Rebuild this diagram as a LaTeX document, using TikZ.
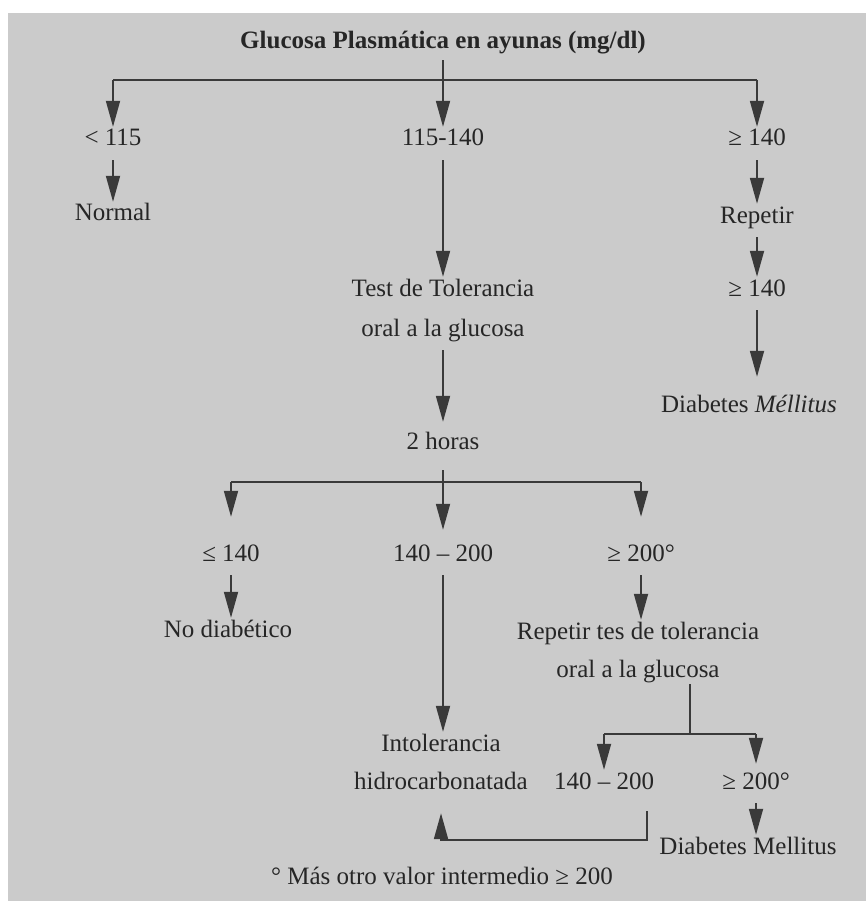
\documentclass[tikz,border=0pt]{standalone}
\usepackage{fontspec}
\setmainfont{Liberation Serif}
\usetikzlibrary{arrows.meta,calc}

\definecolor{fondo}{RGB}{203,203,203}
\definecolor{linea}{RGB}{58,58,58}
\definecolor{letra}{RGB}{38,38,38}

\begin{document}
\begin{tikzpicture}
		[x=1pt,y=-1pt,
		every node/.style={inner sep=2pt,text=letra,text height=17pt,
			text depth=5pt,font=\fontsize{25}{30}\selectfont},
		trazo/.style={draw=linea,line width=1.8pt},
		flecha/.style={trazo,-{Triangle[length=26pt,width=14pt]}}]
		\useasboundingbox (0,0) rectangle (866,901);
		\fill[white] (0,0) rectangle (866,901);
		\fill[fondo] (8,13) rectangle (866,901);
		%% primer nivel
		\node (titulo) at (443,43) {\bfseries Glucosa Plasmática en ayunas (mg/dl)};
		\node (menor) at (113,140) {< 115};
		\node (medio) at (443,140) {115-140};
		\node (mayor) at (757,140) {≥ 140};
		\node (normal) at (113,215) {Normal};
		\node (repetir) at (757,217) {Repetir};
		\node (mayorb) at (757,290) {≥ 140};
		\node (diab) at (749,406) {Diabetes \textit{Méllitus}};
		\node (test) at (443,290) {Test de Tolerancia};
		\node (oral) at (443,330) {oral a la glucosa};
		\node (horas) at (443,443) {2 horas};
		%% segundo nivel
		\node (menig) at (231,555) {≤ 140};
		\node (rango) at (443,555) {140 – 200};
		\node (mayig) at (641,555) {≥ 200°};
		\node (nodiab) at (228,631) {No diabético};
		\node (reptes) at (638,633) {Repetir tes de tolerancia};
		\node (oralb) at (638,671) {oral a la glucosa};
		\node (intol) at (441,745) {Intolerancia};
		\node (hidro) at (441,783) {hidrocarbonatada};
		\node (rangob) at (604,783) {140 – 200};
		\node (mayigb) at (756,783) {≥ 200°};
		\node (diabb) at (748,848) {Diabetes Mellitus};
		\node (nota) at (442,878) {° Más otro valor intermedio ≥ 200};
		%% ramas
		\coordinate (j1) at (443,80);
		\coordinate (b1) at (menor |- j1);
		\coordinate (b3) at (mayor |- j1);
		\coordinate (j2) at (443,482);
		\coordinate (b4) at (menig |- j2);
		\coordinate (b6) at (mayig |- j2);
		\coordinate (j3) at (690,734);
		\coordinate (b7) at (rangob |- j3);
		\coordinate (b8) at (mayigb |- j3);
		\coordinate (r1) at (647,811);
		\draw[trazo,shorten <=4pt] (titulo) -- (j1);
		\draw[trazo] (b1) -- (b3);
		\draw[trazo,shorten <=14pt] (horas) -- (j2);
		\draw[trazo] (b4) -- (b6);
		\draw[trazo] (oralb.south -| j3) -- (j3);
		\draw[trazo] (b7) -- (b8);
		\path
		\foreach \startNode/\endNode/\gap in {b1/menor/0pt,j1/medio/0pt,
			b3/mayor/0pt,b4/menig/25pt,j2/rango/12pt,b6/mayig/25pt,
			b7/rangob/0pt,b8/mayigb/6pt}
		{
			(\startNode) edge[flecha,shorten >=\gap] (\startNode |- \endNode.north)
		};
		\path
		\foreach \startNode/\endNode/\gap in {menor/normal/0pt,medio/test/0pt,
			mayor/repetir/0pt,repetir/mayorb/0pt,mayorb/diab/16pt,oral/horas/8pt,
			menig/nodiab/0pt,rango/intol/0pt,mayig/reptes/0pt,mayigb/diabb/0pt}
		{
			(\startNode) edge[flecha,shorten <=7pt,shorten >=\gap]
				(\startNode |- \endNode.north)
		};
		\draw[flecha,shorten >=17pt] (r1) -- ++(0,29) -| (hidro.south);
		\end{tikzpicture}
\end{document}
